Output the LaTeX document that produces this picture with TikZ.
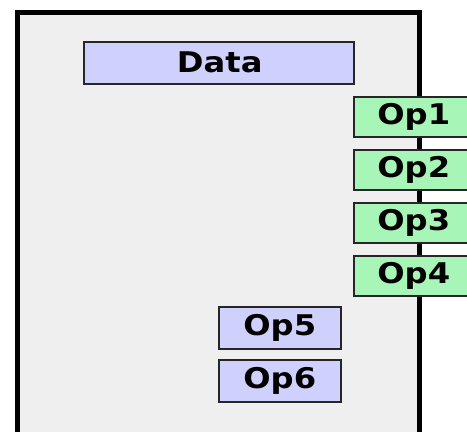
\documentclass[tikz,border=0pt]{standalone}
\usepackage{fontspec}
\setmainfont{DejaVu Sans}
\begin{document}
\begin{tikzpicture}[x=1pt,y=-1pt,
  lbl/.style={font=\fontsize{28.5}{30}\selectfont\bfseries},
  opbox/.style={draw=black!85,line width=1.5pt,inner sep=0pt,anchor=north west},
  blue/.style={opbox,fill={rgb,255:red,208;green,208;blue,252}},
  green/.style={opbox,fill={rgb,255:red,168;green,245;blue,184}}]
\useasboundingbox (0,0) rectangle (467,432);
% outer frame, bottom edge runs off the page
\draw[line width=4.5pt,fill={rgb,255:red,239;green,239;blue,239}] (17.5,12.5) rectangle (419.5,434);
\node[blue,minimum width=270pt,minimum height=42pt] (data) at (83,41) {};
\node[lbl] at ([xshift=1pt]data.center) {\scalebox{1.13}[1]{Data}};
\foreach \i/\y in {1/96,2/149,3/202,4/255}{
  \node[green,minimum width=130pt,minimum height=40pt] (op\i) at (353,\y) {};
  \node[lbl] at ([xshift=-5pt]op\i.center) {\scalebox{1.13}[1]{Op\i}};
}
\foreach \i/\y in {5/306,6/359}{
  \node[blue,minimum width=122pt,minimum height=42pt] (op\i) at (218,\y) {};
  \node[lbl] at (op\i.center) {\scalebox{1.13}[1]{Op\i}};
}
\end{tikzpicture}
\end{document}
